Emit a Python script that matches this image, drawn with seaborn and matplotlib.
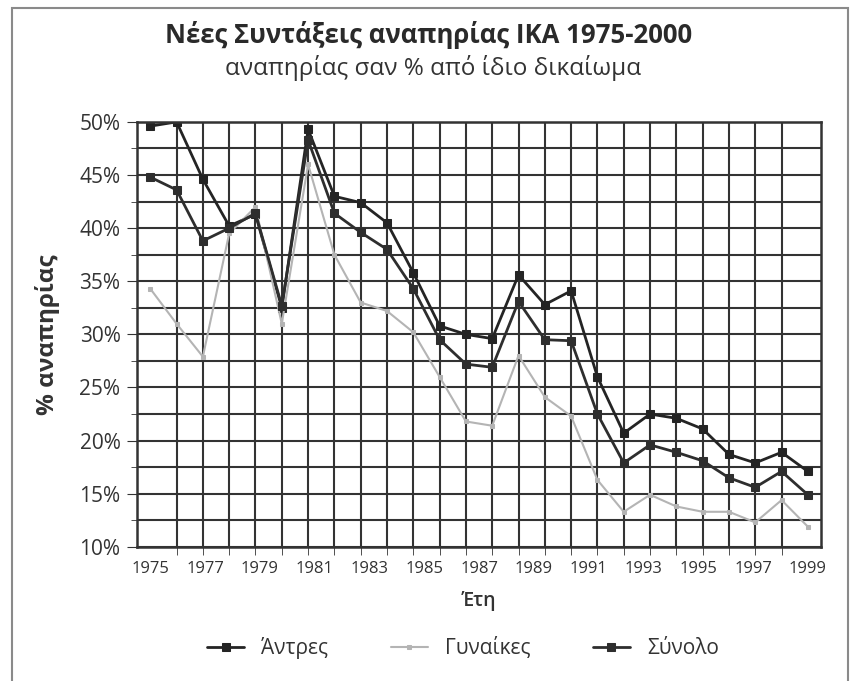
import numpy as np
import pandas as pd
import matplotlib
matplotlib.use("Agg")
import matplotlib.pyplot as plt
import matplotlib.ticker as mticker
from matplotlib.patches import Rectangle
import seaborn as sns

# ── data ───────────────────────────────────────────────
years = list(range(1975, 2001))
men = [49.6, 50.0, 44.6, 40.2, 41.3, 32.5, 49.3, 43.0, 42.4, 40.5,
       35.8, 30.8, 30.0, 29.6, 35.6, 32.8, 34.1, 26.0, 20.7, 22.5,
       22.1, 21.1, 18.7, 17.9, 18.9, 17.1]
women = [34.3, 31.0, 27.9, 39.5, 42.0, 31.0, 46.0, 37.5, 33.0, 32.2,
         30.2, 26.0, 21.8, 21.4, 28.0, 24.1, 22.3, 16.3, 13.3, 14.9,
         13.8, 13.3, 13.3, 12.3, 14.4, 11.9]
total = [44.8, 43.6, 38.8, 40.0, 41.4, 32.7, 48.3, 41.4, 39.6, 38.0,
         34.3, 29.5, 27.2, 26.9, 33.1, 29.5, 29.4, 22.5, 17.9, 19.6,
         18.9, 18.1, 16.5, 15.6, 17.1, 14.9]
labels = ["Άντρες", "Γυναίκες", "Σύνολο"]
# the original axis prints every other year, spread over the full range
tick_labels = [str(y) for y in range(1975, 2000, 2)]

df = pd.DataFrame({"Έτος": years, labels[0]: men,
                   labels[1]: women, labels[2]: total})

# ── style ──────────────────────────────────────────────
sns.set_style("white")
plt.rcParams["font.family"] = ["Open Sans", "DejaVu Sans"]

fig = plt.figure(figsize=(8.57, 6.81), dpi=100)
ax = fig.add_axes([0.160, 0.197, 0.798, 0.624])

grid_col = "#333333"
txt_col = "#333333"
ax.set_axisbelow(True)

# year grid + tick marks on minor locator, labels on major
ax.xaxis.set_minor_locator(mticker.MultipleLocator(1))
ax.xaxis.set_major_locator(mticker.FixedLocator(
    np.linspace(years[0], years[-1], len(tick_labels))))
ax.xaxis.set_major_formatter(mticker.FixedFormatter(tick_labels))
ax.yaxis.set_major_locator(mticker.MultipleLocator(5))
ax.yaxis.set_minor_locator(mticker.MultipleLocator(2.5))
ax.grid(True, which="minor", color=grid_col, linewidth=1.5)
ax.grid(True, which="major", axis="y", color=grid_col, linewidth=1.5)
ax.grid(False, which="major", axis="x")

styles = {
    labels[0]: dict(color="#242424", linewidth=2.0, marker="s", markersize=6),
    labels[1]: dict(color="#b4b4b4", linewidth=1.5, marker="s", markersize=3),
    labels[2]: dict(color="#2e2e2e", linewidth=2.0, marker="s", markersize=6),
}
for name in labels:
    sns.lineplot(data=df, x="Έτος", y=name, ax=ax, label=name,
                 markeredgecolor=styles[name]["color"], **styles[name])

ax.set_xlim(1974.5, 2000.5)
ax.set_ylim(10, 50)

ax.yaxis.set_major_formatter(mticker.FuncFormatter(lambda v, p: f"{v:.0f}%"))
ax.tick_params(axis="y", which="major", labelsize=15, length=7,
               direction="out", left=True, color=grid_col,
               labelcolor=txt_col, pad=5)
ax.tick_params(axis="y", which="minor", length=4, left=True, color=grid_col)
ax.tick_params(axis="x", which="major", labelsize=12, length=0, pad=10,
               labelcolor=txt_col)
ax.tick_params(axis="x", which="minor", length=6, direction="out",
               bottom=True, color=grid_col)

for s in ax.spines.values():
    s.set_color(grid_col)
    s.set_linewidth(1.8)

ax.set_xlabel("Έτη", fontsize=14, fontweight="semibold", color=txt_col,
              labelpad=10)
ax.set_ylabel("% αναπηρίας", fontsize=17.5, fontweight="bold", color=txt_col,
              labelpad=14)

fig.text(0.5, 0.949, "Νέες Συντάξεις αναπηρίας ΙΚΑ 1975-2000",
         ha="center", va="center", fontsize=18.5, fontweight="bold",
         color="#2a2a2a")
fig.text(0.505, 0.900, "αναπηρίας σαν % από ίδιο δικαίωμα",
         ha="center", va="center", fontsize=17.5, color=txt_col)

ax.get_legend().remove()
handles, lbls = ax.get_legend_handles_labels()
fig.legend(handles, lbls, loc="center", bbox_to_anchor=(0.54, 0.048),
           ncol=3, frameon=False, fontsize=15, handlelength=1.8,
           columnspacing=3.0, labelcolor=txt_col)

# scan frame around the chart
fig.patches.append(Rectangle((0.014, -0.01), 0.975, 0.998,
                             transform=fig.transFigure, fill=False,
                             edgecolor="#8a8a8a", linewidth=1.5))

fig.savefig("out.png", dpi=100)
